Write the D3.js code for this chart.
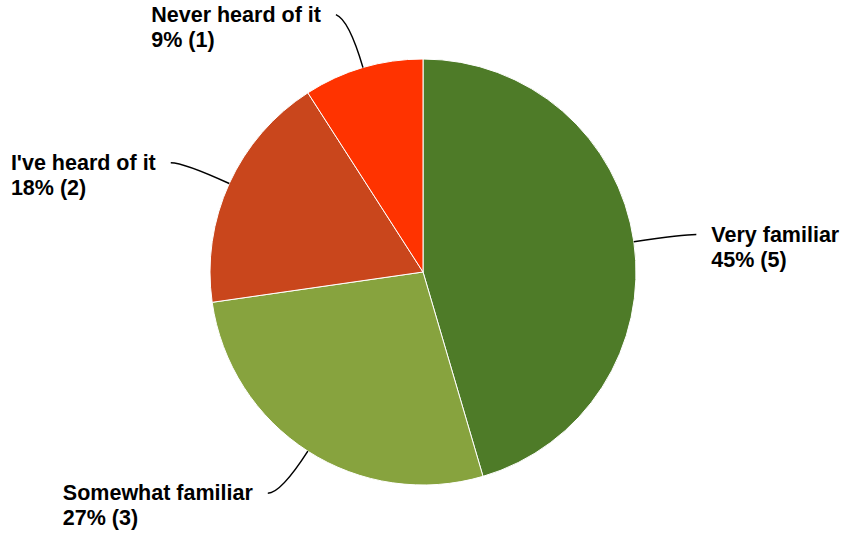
<!DOCTYPE html>
<html>
<head>
<meta charset="utf-8">
<script src="https://cdn.jsdelivr.net/npm/d3@7"></script>
<style>
  html, body { margin: 0; padding: 0; background: #fff; }
  svg { display: block; }
</style>
</head>
<body>
<div id="chart"></div>
<script>
const WIDTH = 845;
const HEIGHT = 539;
const CX = 423;
const CY = 272;
const RADIUS = 213;

// data
const categories = ["Very familiar", "Somewhat familiar", "I've heard of it", "Never heard of it"];
const counts = [5, 3, 2, 1];
const colors = ["#4e7b28", "#87a33e", "#c9461c", "#ff3300"];

const total = d3.sum(counts);
const slices = categories.map((name, i) => ({ name, count: counts[i], color: colors[i] }));

const svg = d3
    .select("#chart")
    .append("svg")
    .attr("width", WIDTH)
    .attr("height", HEIGHT);

const g = svg.append("g").attr("transform", `translate(${CX},${CY})`);

const pie = d3.pie().sort(null).value((d) => d.count);
const arc = d3.arc().innerRadius(0).outerRadius(RADIUS);
const arcs = pie(slices);

g.selectAll("path.slice")
    .data(arcs)
    .join("path")
    .attr("class", "slice")
    .attr("d", arc)
    .attr("fill", (d) => d.data.color)
    .attr("stroke", "#fff")
    .attr("stroke-width", 1);

// point at radius r along the middle of a slice
function polar(d, r) {
    const a = (d.startAngle + d.endAngle) / 2;
    return [r * Math.sin(a), -r * Math.cos(a)];
}

const fmtPct = (v) => Math.round((v / total) * 100) + "%";

arcs.forEach((d) => {
    const mid = (d.startAngle + d.endAngle) / 2;
    const side = Math.sin(mid) >= 0 ? 1 : -1;
    const s = polar(d, RADIUS);
    const c = polar(d, RADIUS + 50);
    const e = [c[0] + side * 13, c[1] - (Math.abs(Math.sin(mid)) < 0.5 ? 5 : 0)];

    g.append("path")
        .attr("d", `M${s[0]},${s[1]}Q${c[0]},${c[1]} ${e[0]},${e[1]}`)
        .attr("fill", "none")
        .attr("stroke", "#000")
        .attr("stroke-width", 1.5);

    const text = g
        .append("text")
        .attr("y", e[1] + 7)
        .attr("font-family", "Liberation Sans, Arial, sans-serif")
        .attr("font-weight", "bold")
        .attr("font-size", 21.5)
        .attr("fill", "#000");

    const line1 = text.append("tspan").text(d.data.name);
    const line2 = text.append("tspan")
        .attr("dy", 25)
        .text(`${fmtPct(d.data.count)} (${d.data.count})`);

    // left labels: block ends by the leader line, lines stay left aligned
    const x0 = side > 0 ? e[0] + 15 : e[0] - 15 - line1.node().getComputedTextLength();
    line1.attr("x", x0);
    line2.attr("x", x0);
});
</script>
</body>
</html>
